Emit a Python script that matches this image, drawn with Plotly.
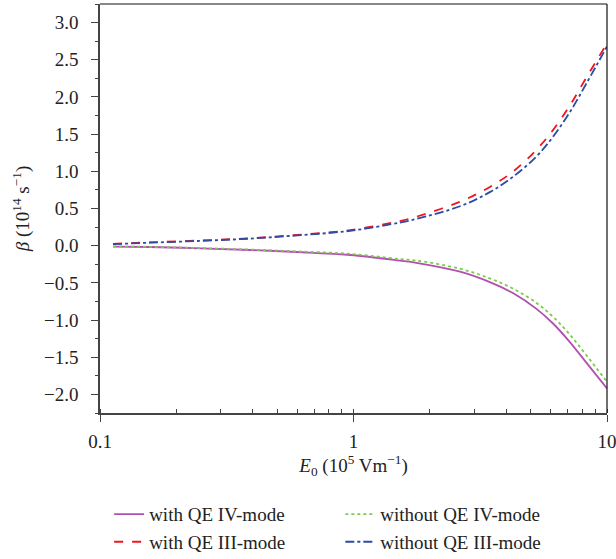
import plotly.graph_objects as go

E0 = [0.1125, 0.157, 0.25, 0.39, 0.6, 0.97, 1.52, 1.77, 2.63, 3.45, 4.27, 5.27, 6.14, 7.15, 8.32, 10]
with_qe_iii = [0.025, 0.045, 0.07, 0.10, 0.145, 0.21, 0.33, 0.39, 0.59, 0.79, 1.0, 1.29, 1.56, 1.89, 2.27, 2.72]
without_qe_iii = [0.02, 0.04, 0.065, 0.095, 0.138, 0.20, 0.31, 0.36, 0.53, 0.72, 0.93, 1.20, 1.47, 1.80, 2.19, 2.68]
with_qe_iv = [-0.012, -0.018, -0.035, -0.058, -0.085, -0.125, -0.20, -0.23, -0.35, -0.49, -0.64, -0.85, -1.05, -1.30, -1.58, -1.92]
without_qe_iv = [-0.010, -0.016, -0.032, -0.052, -0.077, -0.11, -0.18, -0.20, -0.31, -0.44, -0.58, -0.77, -0.96, -1.20, -1.48, -1.83]

y_ticks = [-2.0, -1.5, -1.0, -0.5, 0.0, 0.5, 1.0, 1.5, 2.0, 2.5, 3.0]
y_tick_labels = ["−2.0", "−1.5", "−1.0", "−0.5", "0.0", "0.5", "1.0", "1.5", "2.0", "2.5", "3.0"]
x_ticks = [0.1, 1, 10]
x_tick_labels = ["0.1", "1", "10"]

FONT = "Liberation Serif"
FS = 19

fig = go.Figure()
fig.add_trace(go.Scatter(x=E0, y=with_qe_iv, mode="lines", name="with QE IV-mode",
                         line=dict(color="#B24FB0", width=1.8, shape="spline"), legend="legend"))
fig.add_trace(go.Scatter(x=E0, y=with_qe_iii, mode="lines", name="with QE III-mode",
                         line=dict(color="#F0141E", width=1.8, dash="dash", shape="spline"), legend="legend"))
fig.add_trace(go.Scatter(x=E0, y=without_qe_iv, mode="lines", name="without QE IV-mode",
                         line=dict(color="#7ACB4C", width=1.8, dash="dot", shape="spline"), legend="legend2"))
fig.add_trace(go.Scatter(x=E0, y=without_qe_iii, mode="lines", name="without QE III-mode",
                         line=dict(color="#2B4BA6", width=1.8, dash="dashdot", shape="spline"), legend="legend2"))

fig.update_layout(
    width=616, height=559,
    margin=dict(l=100, r=9, t=4, b=146, autoexpand=False),
    plot_bgcolor="white", paper_bgcolor="white",
    font=dict(family=FONT, size=FS, color="#222"),
    legend=dict(x=0.018, y=-0.201, xanchor="left", yanchor="top", bgcolor="rgba(0,0,0,0)",
                font=dict(family=FONT, size=FS), tracegroupgap=0, itemwidth=30),
    legend2=dict(x=0.474, y=-0.201, xanchor="left", yanchor="top", bgcolor="rgba(0,0,0,0)",
                 font=dict(family=FONT, size=FS), tracegroupgap=0, itemwidth=30),
)

fig.update_xaxes(
    type="log", range=[-1, 1],
    tickvals=x_ticks, ticktext=x_tick_labels,
    ticks="outside", ticklen=7, tickwidth=1.2, tickcolor="#444", ticklabelstandoff=3,
    ticklabeloverflow="allow", automargin=False,
    showline=True, linecolor="#444", linewidth=1.5, mirror=False,
    showgrid=False, zeroline=False,
    tickfont=dict(family=FONT, size=FS),
    minor=dict(ticks="inside", ticklen=4, tickcolor="#444", dtick="D1", showgrid=False),
    title=dict(text="<i>E</i><sub>0</sub> (10<sup>5</sup> Vm<sup>−1</sup>)", font=dict(family=FONT, size=FS), standoff=4),
)
fig.update_yaxes(
    range=[-2.25, 3.25],
    tickvals=y_ticks, ticktext=y_tick_labels,
    ticks="outside", ticklen=7, tickwidth=1.2, tickcolor="#444", ticklabelstandoff=9,
    ticklabeloverflow="allow", automargin=False,
    showline=True, linecolor="#444", linewidth=1.5,
    showgrid=False, zeroline=False,
    tickfont=dict(family=FONT, size=FS),
    minor=dict(ticks="outside", ticklen=3, tickcolor="#444", dtick=0.25, showgrid=False),
    title=dict(text="<i>β</i> (10<sup>14</sup> s<sup>−1</sup>)", font=dict(family=FONT, size=FS), standoff=9),
)

# top and right frame lines
fig.add_shape(type="line", xref="paper", yref="paper", x0=0, x1=1, y0=1, y1=1, line=dict(color="#111", width=1.2))
fig.add_shape(type="line", xref="paper", yref="paper", x0=1, x1=1, y0=0, y1=1, line=dict(color="#111", width=1.2))

fig.write_html("out.html", config={"displayModeBar": False},
               post_script="document.body.style.margin='0';")
